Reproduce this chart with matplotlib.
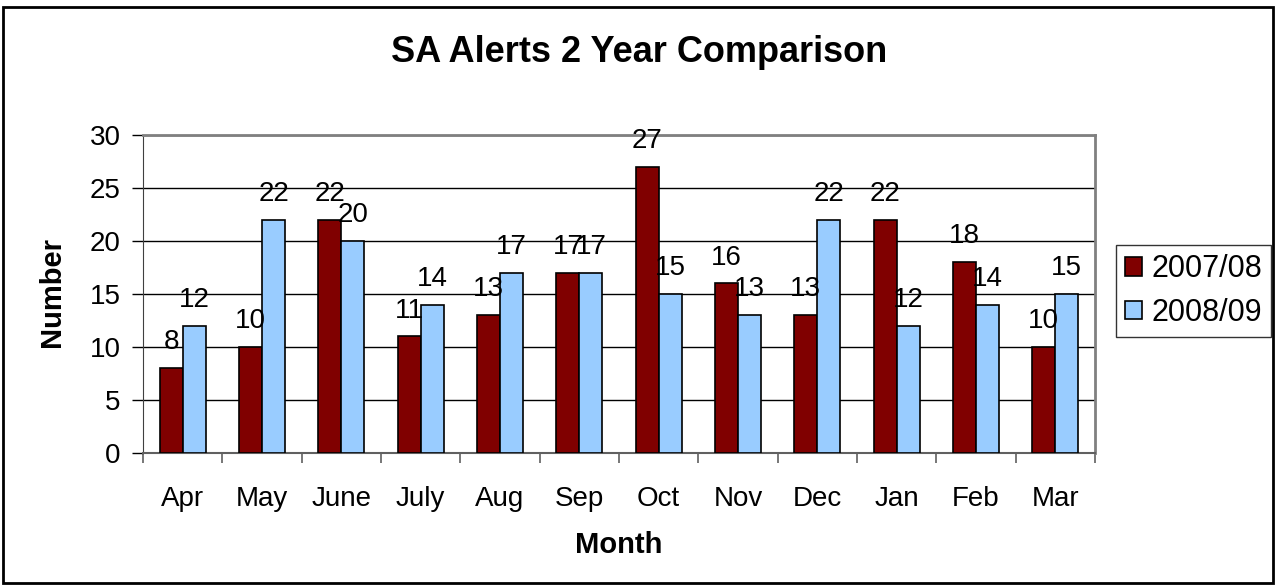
import numpy as np
import matplotlib.pyplot as plt
from matplotlib.patches import Rectangle

months = ['Apr', 'May', 'June', 'July', 'Aug', 'Sep', 'Oct', 'Nov', 'Dec', 'Jan', 'Feb', 'Mar']
alerts_0708 = [8, 10, 22, 11, 13, 17, 27, 16, 13, 22, 18, 10]
alerts_0809 = [12, 22, 20, 14, 17, 17, 15, 13, 22, 12, 14, 15]
series_names = ['2007/08', '2008/09']

plt.rcParams['font.family'] = ['Liberation Sans', 'DejaVu Sans']

W, H = 1276, 587
fig = plt.figure(figsize=(W / 100, H / 100), dpi=100)
ax = fig.add_axes([143 / W, 1 - 453 / H, (1095 - 143) / W, (453 - 135) / H])

x = np.arange(len(months))
w = 0.29
b1 = ax.bar(x - w / 2, alerts_0708, w, color='#800000', edgecolor='black', linewidth=1.2,
            label=series_names[0], zorder=3)
b2 = ax.bar(x + w / 2, alerts_0809, w, color='#99CCFF', edgecolor='black', linewidth=1.2,
            label=series_names[1], zorder=3)

# value labels above each bar
for bars in (b1, b2):
    for r in bars:
        ax.annotate(f'{r.get_height():.0f}', (r.get_x() + r.get_width() / 2, r.get_height()),
                    xytext=(0, 13.5), textcoords='offset points', ha='center', va='baseline',
                    fontsize=20, zorder=4)

ax.set_xlim(-0.5, len(months) - 0.5)
ax.set_ylim(0, 30)
ax.set_yticks(range(0, 31, 5))
ax.yaxis.grid(True, color='black', linewidth=1, zorder=0)

ax.set_xticks(x)
ax.set_xticklabels(months)
ax.set_xticks(np.arange(-0.5, len(months), 1), minor=True)
ax.tick_params(axis='x', which='major', length=0, pad=24, labelsize=20)
ax.tick_params(axis='x', which='minor', length=7, color='#606060', width=1.2)
ax.tick_params(axis='y', length=8, width=1, pad=8, labelsize=20)

for s in ('top', 'right'):
    ax.spines[s].set_color('#808080')
    ax.spines[s].set_linewidth(2)
ax.spines['left'].set_color('#404040')
ax.spines['bottom'].set_color('#606060')
ax.spines['bottom'].set_linewidth(1.5)

fig.text(52 / W, 1 - 292 / H, 'Number', rotation=90, ha='center', va='center',
         fontsize=21, fontweight='bold')
fig.text(619 / W, 1 - 545 / H, 'Month', ha='center', va='center',
         fontsize=21, fontweight='bold')
fig.text(639 / W, 1 - 52 / H, 'SA Alerts 2 Year Comparison', ha='center', va='center',
         fontsize=26, fontweight='bold')

leg = ax.legend(loc='center left', bbox_to_anchor=(1116 / W, 1 - 291 / H),
                bbox_transform=fig.transFigure, fontsize=22, frameon=True, fancybox=False,
                edgecolor='black', handlelength=0.55, handleheight=0.55, handletextpad=0.3,
                borderpad=0.3, labelspacing=0.45, borderaxespad=0)
leg.get_frame().set_linewidth(1)

fig.patches.append(Rectangle((3 / W, 4 / H), 1270 / W, 576 / H, transform=fig.transFigure,
                             fill=False, edgecolor='black', linewidth=2))

fig.savefig('out.png', dpi=100)
